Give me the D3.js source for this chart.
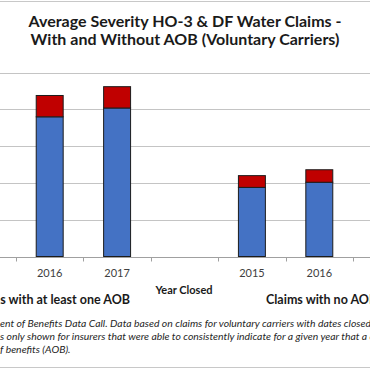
<!DOCTYPE html>
<html>
<head>
<meta charset="utf-8">
<script src="https://cdn.jsdelivr.net/npm/d3@7"></script>
<style>
  body { margin: 0; background: #fff; }
  svg { display: block; font-family: Lato, "Open Sans", sans-serif; }
</style>
</head>
<body>
<div id="chart"></div>
<script>
// categories along the x axis (blank slot separates the two groups)
const slots = ["s0", "s1", "s2", "s3", "s4", "s5"];
const yearLabels = ["2016", "2017", "", "2015", "2016", ""];

// average severity, in $ thousands (blue base + red top segment)
const baseValues = [19.0, 20.2, null, 9.4, 10.1, null];
const topValues = [2.9, 2.9, null, 1.6, 1.7, null];

const gridTicks = [0, 5, 10, 15, 20, 25];

const titleLines = [
  "Average Severity HO-3 & DF Water Claims -",
  "With and Without AOB (Voluntary Carriers)"
];
const noteLines = [
  "ent of Benefits Data Call. Data based on claims for voluntary carriers with dates closed in",
  "s only shown for insurers that were able to consistently indicate for a given year that a claim",
  "f benefits (AOB)."
];

const W = 370, H = 370;

const svg = d3.select("#chart")
  .append("svg")
  .attr("width", W)
  .attr("height", H);

// frame lines at top and bottom
svg.append("line")
  .attr("x1", 0).attr("x2", W).attr("y1", 1.5).attr("y2", 1.5)
  .attr("stroke", "#c8c8c8");
svg.append("line")
  .attr("x1", 0).attr("x2", W).attr("y1", 367.5).attr("y2", 367.5)
  .attr("stroke", "#c8c8c8");

// title
svg.append("g")
  .selectAll("text")
  .data(titleLines).enter()
  .append("text")
  .attr("x", 185)
  .attr("y", (d, i) => 27 + i * 18)
  .attr("text-anchor", "middle")
  .style("font-size", "16px")
  .style("font-weight", "bold")
  .style("fill", "#1a1a1a")
  .text(d => d);

const x = d3.scaleBand()
  .domain(slots)
  .range([16, 16 + 67.4 * slots.length]);

const y = d3.scaleLinear()
  .domain([0, 25])
  .range([256.5, 72.7]);

// gridlines
svg.append("g")
  .selectAll("line")
  .data(gridTicks.slice(1)).enter()
  .append("line")
  .attr("x1", 0).attr("x2", W)
  .attr("y1", d => Math.round(y(d)) + 0.5)
  .attr("y2", d => Math.round(y(d)) + 0.5)
  .attr("stroke", "#c4c4c4");

// x axis with tick marks between categories
const xAxis = svg.append("g")
  .attr("transform", "translate(0," + (Math.round(y(0)) + 0.5) + ")");
xAxis.append("line")
  .attr("x1", 0).attr("x2", W)
  .attr("stroke", "#a0a0a0");
xAxis.selectAll("line.tick")
  .data(slots).enter()
  .append("line")
  .attr("class", "tick")
  .attr("x1", d => Math.round(x(d)) + 0.5)
  .attr("x2", d => Math.round(x(d)) + 0.5)
  .attr("y1", 0).attr("y2", 4)
  .attr("stroke", "#a0a0a0");
xAxis.selectAll("text")
  .data(slots).enter()
  .append("text")
  .attr("x", d => x(d) + x.bandwidth() / 2)
  .attr("y", 19)
  .attr("text-anchor", "middle")
  .style("font-size", "11px")
  .style("fill", "#404040")
  .text((d, i) => yearLabels[i]);

// stacked bars
const barW = x.bandwidth() * 0.4;
const bars = svg.append("g");
slots.forEach((s, i) => {
  if (baseValues[i] == null) return;
  const x0 = x(s) + (x.bandwidth() - barW) / 2;
  bars.append("rect")
    .attr("x", x0)
    .attr("y", y(baseValues[i]))
    .attr("width", barW)
    .attr("height", y(0) - y(baseValues[i]))
    .attr("fill", "#4472C4")
    .attr("stroke", "#1c1c1c")
    .attr("stroke-width", 1);
  bars.append("rect")
    .attr("x", x0)
    .attr("y", y(baseValues[i] + topValues[i]))
    .attr("width", barW)
    .attr("height", y(baseValues[i]) - y(baseValues[i] + topValues[i]))
    .attr("fill", "#C00000")
    .attr("stroke", "#1c1c1c")
    .attr("stroke-width", 1);
});

// axis title and group labels
svg.append("text")
  .attr("x", 184)
  .attr("y", 294)
  .attr("text-anchor", "middle")
  .style("font-size", "11px")
  .style("font-weight", "bold")
  .style("fill", "#1a1a1a")
  .text("Year Closed");

svg.append("text")
  .attr("x", 130)
  .attr("y", 304)
  .attr("text-anchor", "end")
  .style("font-size", "12.5px")
  .style("font-weight", "bold")
  .style("fill", "#1a1a1a")
  .text("Claims with at least one AOB");

svg.append("text")
  .attr("x", 266)
  .attr("y", 304)
  .style("font-size", "12.5px")
  .style("font-weight", "bold")
  .style("fill", "#1a1a1a")
  .text("Claims with no AOB");

// footnote
svg.append("g")
  .selectAll("text")
  .data(noteLines).enter()
  .append("text")
  .attr("x", 0)
  .attr("y", (d, i) => 327 + i * 13)
  .style("font-size", "10.4px")
  .style("font-style", "italic")
  .style("fill", "#262626")
  .text(d => d);
</script>
</body>
</html>
